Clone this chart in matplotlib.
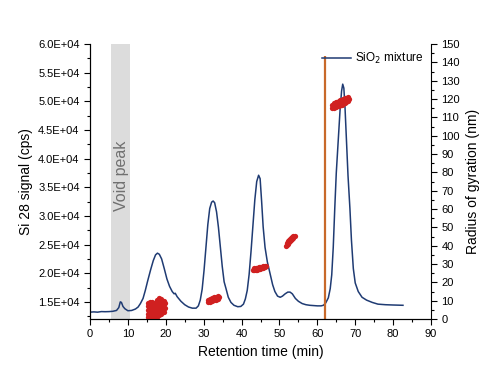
import numpy as np
import matplotlib
matplotlib.use("Agg")
import matplotlib.pyplot as plt
from matplotlib.ticker import MultipleLocator, FuncFormatter

plt.rcParams['font.family'] = ['Liberation Sans', 'DejaVu Sans']

# Si 28 signal (cps) vs retention time (min)
time = [0, 1, 2, 3, 4, 5, 6, 7, 7.6, 8.0, 8.3, 8.7, 9.2, 10.0, 11.0, 12.0, 12.7, 13.3,
        14.0, 14.6, 15.2, 16.0, 16.7, 17.3, 17.8, 18.3, 18.9, 19.6, 20.3, 21.0, 21.7,
        22.2, 22.5, 23.0, 24.0, 25.0, 26.0, 27.0, 28.0, 28.6, 29.1, 29.6, 30.1, 30.6,
        31.1, 31.6, 32.1, 32.5, 32.9, 33.4, 33.9, 34.4, 34.9, 35.4, 35.9, 36.5, 37.2,
        38.0, 39.0, 39.8, 40.5, 41.0, 41.5, 42.0, 42.5, 43.0, 43.5, 44.0, 44.5, 44.9,
        45.3, 45.7, 46.2, 46.8, 47.5, 48.2, 48.8, 49.5, 50.2, 50.8, 51.5, 52.2, 52.8,
        53.4, 54.2, 55.0, 56.0, 57.0, 58.0, 59.0, 60.0, 61.0, 61.6, 62.2, 62.9, 63.4,
        63.8, 64.2, 64.6, 65.0, 65.5, 66.0, 66.4, 66.7, 67.0, 67.3, 67.7, 68.1, 68.6,
        69.0, 69.5, 70.0, 70.8, 71.8, 73.0, 74.5, 76.0, 78.0, 80.0, 82.6]
signal = [13200, 13250, 13200, 13300, 13280, 13300, 13350, 13500, 14000, 15000, 14900,
          14200, 13800, 13450, 13500, 13750, 14100, 14700, 15600, 17000, 18600, 20600,
          22200, 23200, 23500, 23300, 22500, 20800, 19000, 17700, 16800, 16400, 16500,
          15900, 15100, 14500, 14100, 13900, 13900, 14300, 15300, 17200, 20500, 24500,
          28500, 31300, 32400, 32600, 32300, 30700, 28000, 24600, 21200, 18500, 17300,
          15800, 14900, 14400, 14150, 14200, 14600, 15500, 17000, 19800, 23800, 28300,
          32800, 36000, 37100, 36500, 32500, 28100, 24500, 22000, 20000, 18000, 16800,
          16000, 15800, 16000, 16400, 16700, 16700, 16400, 15600, 15100, 14700, 14500,
          14400, 14350, 14300, 14300, 14400, 14800, 15700, 17300, 19700, 24500, 31300,
          37500, 43000, 48500, 51800, 53000, 52300, 49000, 43000, 37000, 31300, 25800,
          20800, 18300, 16800, 15800, 15300, 14900, 14600, 14500, 14450, 14400]

# radius of gyration (nm) vs retention time (min)
rg_time = [15.2, 15.2, 15.2, 15.2, 15.2, 15.8, 15.8, 15.8, 15.8, 15.8, 15.8,
           16.4, 16.4, 16.4, 16.4, 16.4, 16.4, 17.0, 17.0, 17.0, 17.0, 17.0, 17.0,
           17.6, 17.6, 17.6, 17.6, 17.6, 17.6, 18.2, 18.2, 18.2, 18.2, 18.2, 18.2,
           18.8, 18.8, 18.8, 18.8, 18.8, 19.4, 19.4, 19.4, 19.4, 19.8, 19.8,
           31.2, 31.2, 31.7, 31.7, 32.2, 32.2, 32.7, 32.7, 33.2, 33.2, 33.7, 33.7, 34.0,
           42.9, 43.3, 43.3, 43.7, 43.7, 44.1, 44.1, 44.5, 44.5, 44.9, 44.9, 45.3, 45.3,
           45.7, 45.7, 46.1, 46.1, 46.5,
           51.6, 51.9, 51.9, 52.2, 52.2, 52.5, 52.5, 52.8, 52.8, 53.1, 53.1, 53.4, 53.4,
           53.7, 53.7, 54.0,
           64.0, 64.0, 64.4, 64.4, 64.8, 64.8, 64.8, 65.2, 65.2, 65.6, 65.6, 65.6, 66.0,
           66.0, 66.4, 66.4, 66.4, 66.8, 66.8, 67.2, 67.2, 67.2, 67.6, 67.6, 68.0, 68.0,
           68.3]
rg_value = [1, 3, 5, 7, 9, 0.5, 2.5, 4.5, 6.5, 8.5, 9.5,
            0.5, 2, 4, 6, 8, 9.5, 0.5, 2, 4, 6, 8, 9,
            1, 3, 5, 7, 9, 10.5, 2, 4, 6, 8, 10, 11.5,
            3, 5, 7, 9, 11, 4, 6, 8, 10, 6, 9,
            9.2, 10.5, 9.4, 11.0, 9.8, 11.4, 10.3, 11.8, 10.6, 12.2, 11.2, 12.4, 11.8,
            26.6, 26.6, 27.6, 26.8, 27.8, 27.0, 28.0, 27.2, 28.2, 27.4, 28.4, 27.6, 28.6,
            27.9, 28.9, 28.2, 29.2, 28.8,
            40.0, 40.3, 41.5, 41.0, 42.3, 41.8, 43.0, 42.5, 43.7, 43.2, 44.3, 43.8, 44.9,
            44.4, 45.4, 45.2,
            115.0, 117.0, 115.3, 117.6, 115.6, 117.0, 118.2, 116.0, 118.6, 116.3, 117.5,
            119.0, 116.7, 119.3, 117.0, 118.2, 119.7, 117.4, 120.0, 117.8, 119.0, 120.5,
            118.3, 120.6, 118.8, 120.9, 120.2]

xticks = list(range(0, 100, 10))
void_start, void_end = 5.5, 10.5
mark_time = 62.0

fig = plt.figure(figsize=(5, 3.83), dpi=100)
ax = fig.add_axes([0.18, 0.167, 0.682, 0.718])
ax2 = ax.twinx()

ax.axvspan(void_start, void_end, color='#dcdcdc', zorder=0, lw=0)
ax.text((void_start + void_end) / 2 + 0.2, 37000, 'Void peak', rotation=90, color='#707070',
        fontsize=11.5, ha='center', va='center')
ax.plot(time, signal, color='#1f3b73', lw=1.1, label='SiO$_2$ mixture')
ax.vlines(mark_time, 12000, 57900, color='#c8692a', lw=1.6)

ax2.plot(rg_time, rg_value, 'o', color='#d02020', ms=3.8, mec='none')

ax.set_xlim(0, 90)
ax.set_ylim(12000, 60000)
ax2.set_ylim(0, 150)
ax.set_xticks(xticks)
ax.xaxis.set_minor_locator(MultipleLocator(5))
ax.yaxis.set_minor_locator(MultipleLocator(2500))
ax.set_yticks([15000, 20000, 25000, 30000, 35000, 40000, 45000, 50000, 55000, 60000])
ax.yaxis.set_major_formatter(FuncFormatter(lambda v, p: f"{v:.1E}"))
ax2.yaxis.set_major_locator(MultipleLocator(10))
ax2.yaxis.set_minor_locator(MultipleLocator(5))

for a in (ax, ax2):
    a.spines['top'].set_visible(False)
    a.tick_params(which='major', direction='out', length=4, width=0.8, labelsize=8)
    a.tick_params(which='minor', direction='out', length=2, width=0.8)
ax.spines['right'].set_visible(False)

ax.set_xlabel('Retention time (min)', fontsize=10)
ax.set_ylabel('Si 28 signal (cps)', fontsize=10)
ax2.set_ylabel('Radius of gyration (nm)', fontsize=10)

ax.legend(loc='upper right', frameon=False, fontsize=8.5, handlelength=2.4,
          borderaxespad=0.2, handletextpad=0.4)

fig.savefig('out.png', dpi=100)
